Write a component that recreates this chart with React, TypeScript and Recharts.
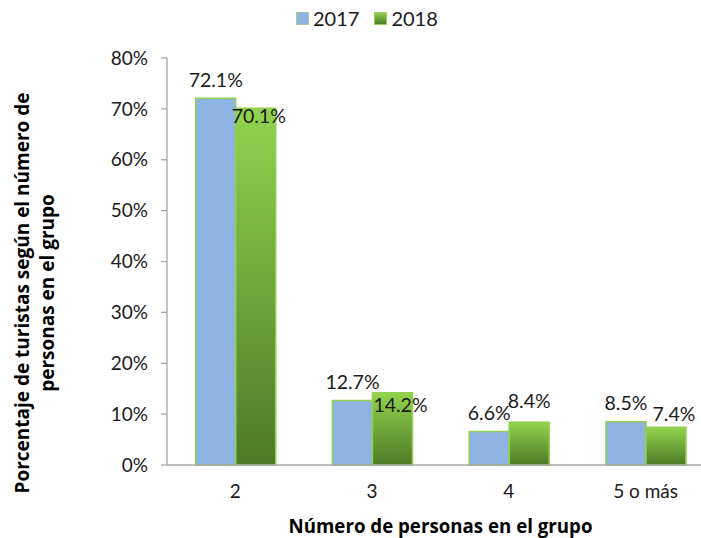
import React from 'react';
import { BarChart, Bar, XAxis, YAxis, LabelList } from 'recharts';

const categories = ['2', '3', '4', '5 o más'];
const values2017 = [72.1, 12.7, 6.6, 8.5];
const values2018 = [70.1, 14.2, 8.4, 7.4];
const yTicks = [0, 10, 20, 30, 40, 50, 60, 70, 80];

// 2018 labels sit a bit off in the original (dx, dy from bar top centre)
const nudge2018 = [[3, 7], [8, 12], [0, -22], [8, -14]];

const data = categories.map((c, i) => ({ name: c, y2017: values2017[i], y2018: values2018[i] }));

const FONT = 'Lato, "Open Sans", sans-serif';
const BOLD = '"Open Sans", sans-serif';
const BLUE = '#8DB3E2';
const BORDER = '#92D050';

const fmt = (v: number) => `${v.toFixed(1)}%`;

const Label2017 = (props: any) => {
  const { x, y, width, value } = props;
  return (
    <text x={x + width / 2} y={y - 19} textAnchor="middle" dominantBaseline="central"
      fontFamily={FONT} fontSize={19.5} fill="#1a1a1a">
      {fmt(value)}
    </text>
  );
};

const Label2018 = (props: any) => {
  const { x, y, width, value, index } = props;
  const [dx, dy] = nudge2018[index] || [0, -19];
  return (
    <text x={x + width / 2 + dx} y={y + dy} textAnchor="middle" dominantBaseline="central"
      fontFamily={FONT} fontSize={19.5} fill="#1a1a1a">
      {fmt(value)}
    </text>
  );
};

const LegendBox = () => (
  <div style={{ position: 'absolute', top: 6, left: 296, display: 'flex', alignItems: 'center',
    fontFamily: FONT, fontSize: 20, color: '#1a1a1a', lineHeight: '24px' }}>
    <span style={{ width: 11, height: 11, background: BLUE, border: '1px solid #a8c8a0', marginRight: 4 }} />
    <span style={{ marginRight: 15 }}>2017</span>
    <span style={{ width: 11, height: 11, background: 'linear-gradient(#92D050, #4E7A27)', border: '1px solid #9bd060', marginRight: 4 }} />
    <span>2018</span>
  </div>
);

const YTitle = () => {
  const cy = 293;
  return (
    <g fontFamily={BOLD} fontSize={19} fontWeight="bold" fill="#000">
      <text x={0} y={0} transform={`translate(22, ${cy}) rotate(-90)`} textAnchor="middle" dominantBaseline="central">
        Porcentaje de turistas según el número de
      </text>
      <text x={0} y={0} transform={`translate(47, ${cy}) rotate(-90)`} textAnchor="middle" dominantBaseline="central">
        personas en el grupo
      </text>
    </g>
  );
};

export default function App() {
  return (
    <div style={{ position: 'absolute', left: 0, top: 0, width: 701, height: 538, overflow: 'hidden', background: '#fff' }}>
      <LegendBox />
      <BarChart width={714} height={538} data={data} margin={{ top: 58, right: 0, left: 0, bottom: 0 }}
        barGap={0} barCategoryGap="21%">
        <defs>
          <linearGradient id="g2018" x1="0" y1="0" x2="0" y2="1">
            <stop offset="0%" stopColor="#92D34E" />
            <stop offset="100%" stopColor="#4E7A27" />
          </linearGradient>
        </defs>
        <XAxis dataKey="name" axisLine={{ stroke: '#a6a6a6', strokeWidth: 1.3 }} tickLine={false} tickSize={0}
          tickMargin={20} height={73} interval={0}
          tick={{ fontFamily: FONT, fontSize: 19, fill: '#1a1a1a' }}
          label={{ value: 'Número de personas en el grupo', position: 'insideBottom', offset: 5,
            style: { fontFamily: BOLD, fontSize: 18.7, fontWeight: 'bold', fill: '#000' } }} />
        <YAxis width={167} domain={[0, 80]} ticks={yTicks} interval={0} tickFormatter={(v) => `${v}%`}
          axisLine={{ stroke: '#a6a6a6', strokeWidth: 1.3 }} tickLine={{ stroke: '#a6a6a6', strokeWidth: 1.3 }}
          tickSize={6} tickMargin={13}
          tick={{ fontFamily: FONT, fontSize: 19, fill: '#1a1a1a' }}
          label={<YTitle />} />
        <Bar dataKey="y2017" name="2017" fill={BLUE} stroke={BORDER} strokeWidth={1.5} isAnimationActive={false}>
          <LabelList dataKey="y2017" content={<Label2017 />} />
        </Bar>
        <Bar dataKey="y2018" name="2018" fill="url(#g2018)" stroke={BORDER} strokeWidth={1.5} isAnimationActive={false}>
          <LabelList dataKey="y2018" content={<Label2018 />} />
        </Bar>
      </BarChart>
    </div>
  );
}
